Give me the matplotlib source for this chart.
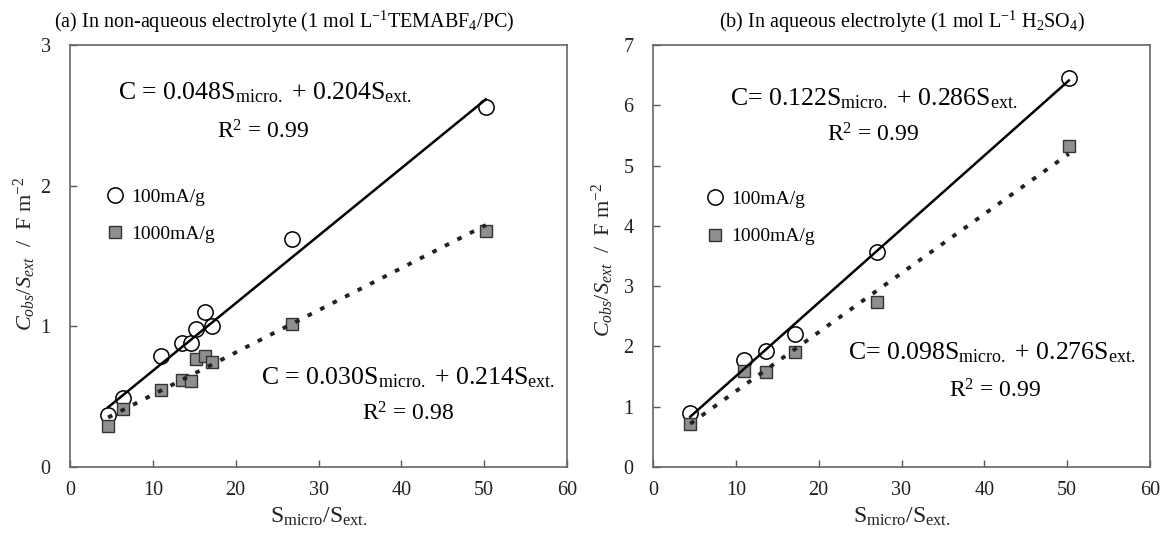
import numpy as np
import matplotlib
matplotlib.use("Agg")
import matplotlib.pyplot as plt

plt.rcParams['font.family'] = ['Liberation Serif', 'DejaVu Serif']
plt.rcParams['mathtext.fontset'] = 'custom'
plt.rcParams['mathtext.rm'] = 'Liberation Serif'
plt.rcParams['mathtext.it'] = 'Liberation Serif:italic'

# (a) non-aqueous electrolyte
x_a = [4.6, 6.4, 11.0, 13.5, 14.6, 15.2, 16.3, 17.1, 26.8, 50.2]
c100_a = [0.37, 0.49, 0.79, 0.88, 0.88, 0.98, 1.10, 1.00, 1.62, 2.56]
c1000_a = [0.29, 0.41, 0.55, 0.62, 0.61, 0.77, 0.79, 0.75, 1.02, 1.68]
fit100_a = (0.048, 0.204)
fit1000_a = (0.030, 0.214)

# (b) aqueous electrolyte
x_b = [4.5, 11.0, 13.6, 17.2, 27.0, 50.2]
c100_b = [0.90, 1.78, 1.92, 2.20, 3.57, 6.45]
c1000_b = [0.72, 1.60, 1.57, 1.90, 2.74, 5.32]
fit100_b = (0.122, 0.286)
fit1000_b = (0.098, 0.276)

xticks = [0, 10, 20, 30, 40, 50, 60]
yticks_a = [0, 1, 2, 3]
yticks_b = [0, 1, 2, 3, 4, 5, 6, 7]

fig = plt.figure(figsize=(11.62, 5.39), dpi=100)
ax1 = fig.add_axes([70 / 1162, 72 / 539, 497 / 1162, 422 / 539])
ax2 = fig.add_axes([653 / 1162, 72 / 539, 497 / 1162, 422 / 539])


def draw(ax, x, c100, c1000, f100, f1000, yticks):
    ax.plot(x, c100, 'o', ms=11, mfc='white', mec='black', mew=1.1,
            ls='none', zorder=3, label='100mA/g')
    ax.plot(x, c1000, 's', ms=9, mfc='#8f8f8f', mec='#333333', mew=1.0,
            ls='none', zorder=4, label='1000mA/g')
    xs = np.array([min(x), max(x)])
    ax.plot(xs, f100[0] * xs + f100[1], color='black', lw=1.8, zorder=5)
    ax.plot(xs, f1000[0] * xs + f1000[1], color='#222222', lw=2.8,
            ls=(0, (1.2, 2.4)), zorder=5)
    ax.set_xlim(0, 60)
    ax.set_ylim(yticks[0], yticks[-1])
    ax.set_xticks(xticks)
    ax.set_yticks(yticks)
    ax.tick_params(direction='in', length=5, width=1, colors='#555555',
                   labelcolor='#222222', labelsize=14.5)
    ax.tick_params(axis='x', pad=10)
    ax.tick_params(axis='y', pad=14)
    for s in ax.spines.values():
        s.set_color('#666666')
        s.set_linewidth(1.2)
    ax.set_xlabel(r'S$_{\mathrm{micro}}$/S$_{\mathrm{ext.}}$', fontsize=17,
                  color='#222222')
    ax.xaxis.label.set_va('center')
    ax.xaxis.set_label_coords(0.5, -0.118)
    ax.set_ylabel(r'$C_{obs}/S_{ext}$  /  F m$^{-2}$', fontsize=16,
                  color='#222222')
    ax.yaxis.label.set_va('center')
    leg = ax.legend(loc='center left', frameon=False, fontsize=14,
                    handletextpad=0.1, labelspacing=1.0, handlelength=1.5,
                    borderaxespad=0)
    return leg


leg1 = draw(ax1, x_a, c100_a, c1000_a, fit100_a, fit1000_a, yticks_a)
leg1.set_bbox_to_anchor((0.045, 0.595))
ax1.yaxis.set_label_coords(-0.09, 0.505)

leg2 = draw(ax2, x_b, c100_b, c1000_b, fit100_b, fit1000_b, yticks_b)
leg2.set_bbox_to_anchor((0.08, 0.59))
ax2.yaxis.set_label_coords(-0.1, 0.49)

ax1.text(0.097, 0.887, r'C = 0.048S$_{\mathrm{micro.}}$ + 0.204S$_{\mathrm{ext.}}$',
         fontsize=18.5, va='center', ha='left', transform=ax1.transAxes)
ax1.text(0.388, 0.795, r'R$^{2}$ = 0.99', fontsize=17, va='center',
         ha='center', transform=ax1.transAxes)
ax1.text(0.976, 0.212, r'C = 0.030S$_{\mathrm{micro.}}$ + 0.214S$_{\mathrm{ext.}}$',
         fontsize=18.5, va='center', ha='right', transform=ax1.transAxes)
ax1.text(0.68, 0.125, r'R$^{2}$ = 0.98', fontsize=17, va='center',
         ha='center', transform=ax1.transAxes)

ax2.text(0.155, 0.873, r'C= 0.122S$_{\mathrm{micro.}}$ + 0.286S$_{\mathrm{ext.}}$',
         fontsize=18.5, va='center', ha='left', transform=ax2.transAxes)
ax2.text(0.443, 0.786, r'R$^{2}$ = 0.99', fontsize=17, va='center',
         ha='center', transform=ax2.transAxes)
ax2.text(0.97, 0.27, r'C= 0.098S$_{\mathrm{micro.}}$ + 0.276S$_{\mathrm{ext.}}$',
         fontsize=18.5, va='center', ha='right', transform=ax2.transAxes)
ax2.text(0.688, 0.181, r'R$^{2}$ = 0.99', fontsize=17, va='center',
         ha='center', transform=ax2.transAxes)

fig.text(284 / 1162, 1 - 22 / 539,
         r'(a) In non-aqueous electrolyte (1 mol L$^{-1}$TEMABF$_{4}$/PC)',
         fontsize=14.5, ha='center', va='center')
fig.text(902 / 1162, 1 - 22 / 539,
         r'(b) In aqueous electrolyte (1 mol L$^{-1}$ H$_{2}$SO$_{4}$)',
         fontsize=14.5, ha='center', va='center')

fig.savefig('out.png', dpi=100)
